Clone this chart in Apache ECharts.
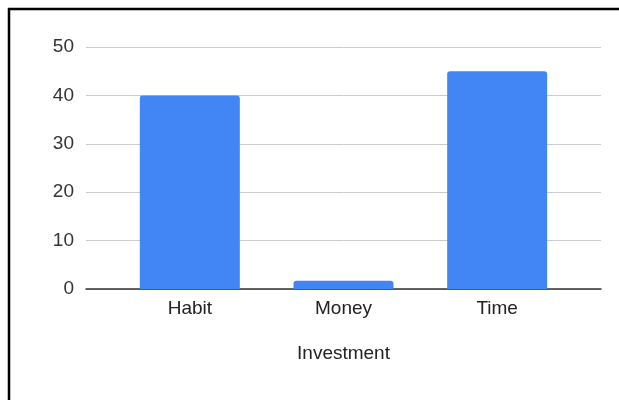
<!DOCTYPE html>
<html><head><meta charset="utf-8">
<script src="https://cdn.jsdelivr.net/npm/echarts@6/dist/echarts.min.js"></script>
<style>html,body{margin:0;padding:0;background:#fff}#c{width:619px;height:400px}</style>
</head><body><div id="c"></div>
<script>
const categories = ['Habit', 'Money', 'Time'];
const values = [40, 1.7, 45];
const yTicks = [0, 10, 20, 30, 40, 50];
const xTitle = 'Investment';

const chart = echarts.init(document.getElementById('c'), null, {renderer: 'canvas'});
const font = 'Arial, "Liberation Sans", sans-serif';
chart.setOption({
  animation: false,
  backgroundColor: '#fff',
  grid: [
    {left: 86, right: 18, top: 47, bottom: 111},
    {left: 113, right: 45, top: 47, bottom: 111}
  ],
  xAxis: [
    {gridIndex: 0, type: 'value', min: 0, max: 1, show: true,
     axisLine: {show: true, lineStyle: {color: '#333', width: 1.5}},
     axisTick: {show: false}, axisLabel: {show: false}, splitLine: {show: false},
     name: xTitle, nameLocation: 'middle', nameGap: 55,
     nameTextStyle: {fontFamily: font, fontSize: 19, color: '#222'}},
    {gridIndex: 1, type: 'category', data: categories,
     axisLine: {show: false}, axisTick: {show: false},
     axisLabel: {margin: 10, fontFamily: font, fontSize: 19, color: '#222'}}
  ],
  yAxis: [
    {gridIndex: 0, type: 'value', min: yTicks[0], max: yTicks[yTicks.length-1], interval: 10,
     axisLine: {show: false}, axisTick: {show: false},
     axisLabel: {margin: 12, fontFamily: font, fontSize: 19, color: '#333'},
     splitLine: {lineStyle: {color: '#ccc', width: 1}}},
    {gridIndex: 1, type: 'value', min: yTicks[0], max: yTicks[yTicks.length-1], interval: 10, show: false,
     splitLine: {show: false}}
  ],
  graphic: [
    {type: 'line', shape: {x1: 9, y1: 8, x2: 9, y2: 400}, style: {stroke: '#000', lineWidth: 2.5}, silent: true},
    {type: 'line', shape: {x1: 8, y1: 9, x2: 619, y2: 9}, style: {stroke: '#000', lineWidth: 2.5}, silent: true}
  ],
  series: [{
    type: 'bar', xAxisIndex: 1, yAxisIndex: 1, data: values,
    barWidth: 100, itemStyle: {color: '#4285f4', borderRadius: [3, 3, 0, 0]}, z: 1
  }]
});
</script></body></html>
